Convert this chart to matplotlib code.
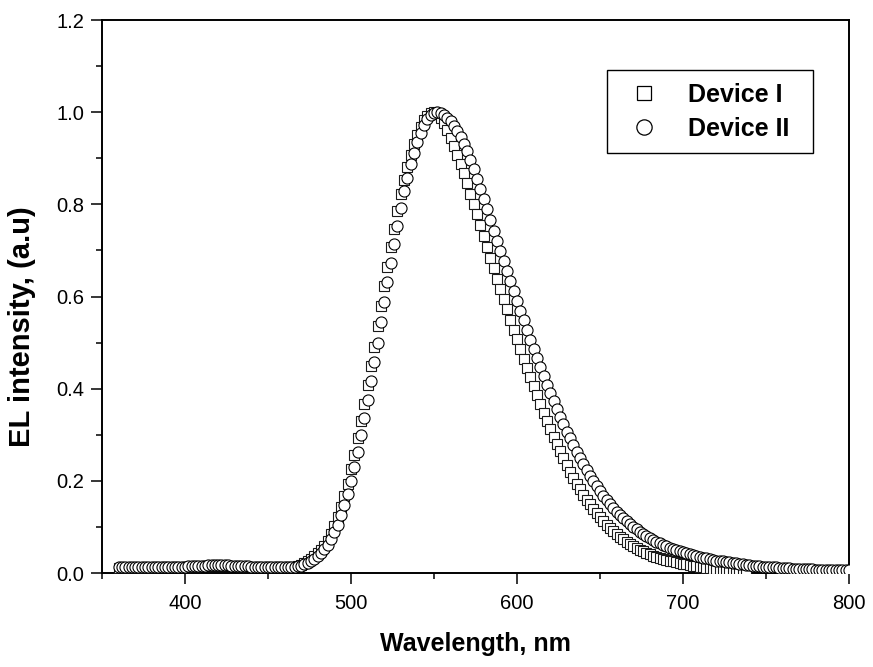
import numpy as np
import matplotlib
matplotlib.use("Agg")
import matplotlib.pyplot as plt
from matplotlib.lines import Line2D
from matplotlib.ticker import MultipleLocator

plt.rcParams['font.family'] = ['Liberation Sans', 'DejaVu Sans']

# Electroluminescence spectra sampled every 2 nm
wl_dev2 = np.arange(360, 801, 2)
wl_dev1 = np.arange(360, 739, 2)

el_dev1 = [
    0.011, 0.011, 0.011, 0.011, 0.011, 0.011, 0.011, 0.011, 0.011, 0.011,   # 360-378
    0.011, 0.012, 0.012, 0.012, 0.012, 0.012, 0.012, 0.013, 0.013, 0.013,   # 380-398
    0.013, 0.014, 0.014, 0.014, 0.015, 0.015, 0.015, 0.016, 0.016, 0.016,   # 400-418
    0.016, 0.016, 0.016, 0.016, 0.015, 0.015, 0.015, 0.014, 0.014, 0.014,   # 420-438
    0.013, 0.013, 0.013, 0.012, 0.012, 0.012, 0.012, 0.012, 0.012, 0.012,   # 440-458
    0.012, 0.012, 0.013, 0.014, 0.016, 0.018, 0.021, 0.025, 0.030, 0.036,   # 460-478
    0.043, 0.050, 0.059, 0.070, 0.085, 0.102, 0.121, 0.143, 0.167, 0.194,   # 480-498
    0.225, 0.257, 0.292, 0.329, 0.367, 0.408, 0.449, 0.491, 0.535, 0.579,   # 500-518
    0.622, 0.665, 0.707, 0.746, 0.785, 0.822, 0.852, 0.882, 0.907, 0.930,   # 520-538
    0.950, 0.968, 0.983, 0.992, 0.998, 1.000, 0.996, 0.988, 0.977, 0.962,   # 540-558
    0.945, 0.926, 0.907, 0.888, 0.867, 0.846, 0.823, 0.800, 0.778, 0.755,   # 560-578
    0.731, 0.708, 0.684, 0.661, 0.638, 0.616, 0.594, 0.572, 0.550, 0.528,   # 580-598
    0.507, 0.486, 0.465, 0.445, 0.425, 0.405, 0.386, 0.367, 0.348, 0.330,   # 600-618
    0.313, 0.296, 0.280, 0.264, 0.249, 0.234, 0.220, 0.207, 0.194, 0.182,   # 620-638
    0.170, 0.159, 0.149, 0.139, 0.130, 0.121, 0.113, 0.105, 0.098, 0.091,   # 640-658
    0.085, 0.079, 0.073, 0.068, 0.063, 0.059, 0.055, 0.051, 0.047, 0.044,   # 660-678
    0.041, 0.038, 0.035, 0.033, 0.031, 0.029, 0.027, 0.025, 0.023, 0.022,   # 680-698
    0.020, 0.019, 0.017, 0.016, 0.015, 0.014, 0.012, 0.011, 0.010, 0.009,   # 700-718
    0.008, 0.007, 0.006, 0.005, 0.004, 0.003, 0.002, 0.002, 0.001, 0.001,   # 720-738
]

el_dev2 = [
    0.012, 0.012, 0.012, 0.012, 0.012, 0.012, 0.012, 0.012, 0.012, 0.012,   # 360-378
    0.012, 0.013, 0.013, 0.013, 0.013, 0.013, 0.013, 0.014, 0.014, 0.014,   # 380-398
    0.014, 0.015, 0.015, 0.015, 0.016, 0.016, 0.016, 0.017, 0.017, 0.017,   # 400-418
    0.017, 0.017, 0.017, 0.017, 0.016, 0.016, 0.016, 0.015, 0.015, 0.015,   # 420-438
    0.014, 0.014, 0.014, 0.013, 0.013, 0.013, 0.013, 0.013, 0.013, 0.013,   # 440-458
    0.013, 0.013, 0.013, 0.014, 0.015, 0.016, 0.019, 0.022, 0.026, 0.031,   # 460-478
    0.037, 0.044, 0.052, 0.061, 0.073, 0.088, 0.105, 0.125, 0.148, 0.172,   # 480-498
    0.200, 0.231, 0.263, 0.299, 0.336, 0.375, 0.416, 0.457, 0.500, 0.544,   # 500-518
    0.588, 0.631, 0.673, 0.715, 0.754, 0.793, 0.829, 0.858, 0.888, 0.912,   # 520-538
    0.935, 0.954, 0.972, 0.986, 0.994, 0.999, 1.000, 0.998, 0.994, 0.988,   # 540-558
    0.980, 0.970, 0.959, 0.947, 0.932, 0.915, 0.897, 0.877, 0.856, 0.834,   # 560-578
    0.812, 0.789, 0.766, 0.743, 0.720, 0.698, 0.677, 0.655, 0.633, 0.611,   # 580-598
    0.590, 0.569, 0.548, 0.527, 0.506, 0.486, 0.466, 0.446, 0.427, 0.408,   # 600-618
    0.390, 0.373, 0.356, 0.339, 0.323, 0.307, 0.292, 0.277, 0.263, 0.249,   # 620-638
    0.236, 0.223, 0.211, 0.199, 0.188, 0.177, 0.168, 0.159, 0.150, 0.141,   # 640-658
    0.133, 0.126, 0.119, 0.112, 0.106, 0.100, 0.095, 0.090, 0.085, 0.080,   # 660-678
    0.076, 0.072, 0.068, 0.065, 0.061, 0.058, 0.055, 0.052, 0.050, 0.047,   # 680-698
    0.045, 0.043, 0.041, 0.039, 0.037, 0.035, 0.033, 0.032, 0.030, 0.029,   # 700-718
    0.027, 0.026, 0.025, 0.024, 0.023, 0.022, 0.021, 0.020, 0.019, 0.018,   # 720-738
    0.017, 0.016, 0.015, 0.015, 0.014, 0.013, 0.013, 0.012, 0.012, 0.011,   # 740-758
    0.010, 0.010, 0.010, 0.009, 0.009, 0.009, 0.008, 0.008, 0.008, 0.008,   # 760-778
    0.007, 0.007, 0.007, 0.007, 0.007, 0.006, 0.006, 0.006, 0.006, 0.006,   # 780-798
    0.006,                                                                  # 800
]

series_labels = ["Device I", "Device II"]
x_ticks = [400, 500, 600, 700, 800]
y_ticks = [0.0, 0.2, 0.4, 0.6, 0.8, 1.0, 1.2]

fig = plt.figure(figsize=(8.73, 6.67), dpi=100)
ax = fig.add_axes([0.1168, 0.1409, 0.8557, 0.8291])

ax.plot(wl_dev1, el_dev1, linestyle='none', marker='s', ms=7.2,
        mfc='white', mec='#1a1a1a', mew=0.8, zorder=3)
ax.plot(wl_dev2, el_dev2, linestyle='none', marker='o', ms=8.0,
        mfc='white', mec='black', mew=0.8, zorder=4)

ax.set_xlim(350, 800)
ax.set_ylim(0, 1.2)
ax.set_xticks(x_ticks)
ax.set_yticks(y_ticks)
ax.set_yticklabels([f"{v:.1f}" for v in y_ticks])
ax.xaxis.set_minor_locator(MultipleLocator(50))
ax.yaxis.set_minor_locator(MultipleLocator(0.1))

for side in ['left', 'bottom', 'top', 'right']:
    ax.spines[side].set_linewidth(1.4)
ax.tick_params(which='both', direction='out', top=False, right=False,
               width=1.1, labelsize=14.5)
ax.tick_params(which='major', length=7.8)
ax.tick_params(which='minor', length=4)
ax.tick_params(axis='x', which='major', pad=7)
ax.tick_params(axis='y', which='major', pad=5)

ax.set_xlabel("Wavelength, nm", fontsize=18, fontweight='bold', labelpad=14)
ax.set_ylabel("EL intensity, (a.u)", fontsize=21, fontweight='bold')
ax.yaxis.set_label_coords(-0.088, 0.445)

handles = [
    Line2D([], [], linestyle='none', marker='s', ms=9.5, mfc='white',
           mec='black', mew=0.9),
    Line2D([], [], linestyle='none', marker='o', ms=11, mfc='white',
           mec='black', mew=0.9),
]
leg = ax.legend(handles, series_labels, loc='upper left', mode='expand',
                bbox_to_anchor=(0.676, 0.763, 0.2758, 0.1466),
                frameon=True, fancybox=False,
                edgecolor='black', framealpha=1, borderpad=0.5,
                handletextpad=0.77, labelspacing=0.4, handlelength=1.98,
                borderaxespad=0,
                prop={'size': 18, 'weight': 'bold'})
leg.get_frame().set_linewidth(1.0)

fig.savefig("out.png", dpi=100)
